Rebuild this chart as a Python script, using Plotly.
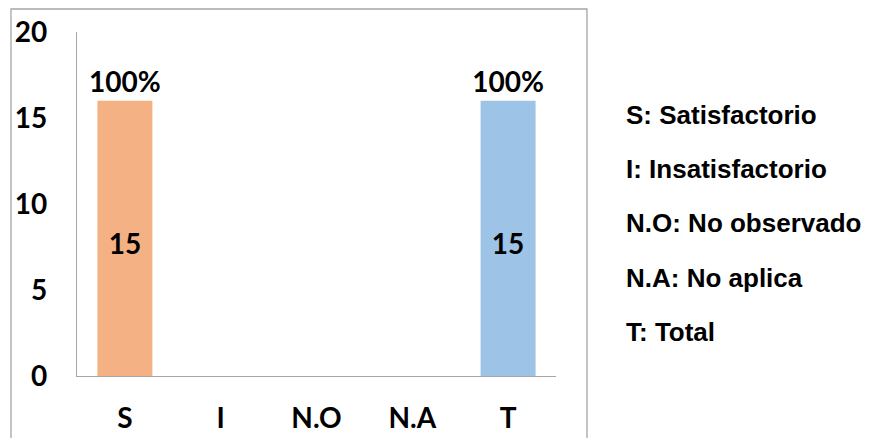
import plotly.graph_objects as go

categories = ["S", "I", "N.O", "N.A", "T"]
bar_values = [16, 0, 0, 0, 16]          # bar heights
count_values = [15, None, None, None, 15]  # numbers printed inside the bars
percent_labels = ["100%", "", "", "", "100%"]
bar_colors = ["#F4B183", "#F4B183", "#F4B183", "#F4B183", "#9DC3E6"]
y_ticks = [0, 5, 10, 15, 20]
legend_lines = ["S: Satisfactorio", "I: Insatisfactorio", "N.O: No observado",
                "N.A: No aplica", "T: Total"]

CAL = "Lato, Carlito, Calibri, sans-serif"
ARIAL = "Liberation Sans, Arial, sans-serif"
CAL_SIZE = 28

W, H = 869, 438
ml, mr, mt, mb = 77, 869 - 556, 32, 438 - 376
pw, ph = W - ml - mr, H - mt - mb

def px_x(px):
    return (px - ml) / pw

def px_y(py):
    return (H - mb - py) / ph

fig = go.Figure()
fig.add_trace(go.Bar(
    x=categories, y=bar_values,
    marker=dict(color=bar_colors, line=dict(width=0)),
    text=percent_labels, textposition="outside", cliponaxis=False,
    constraintext="none",
    textfont=dict(family=CAL, size=CAL_SIZE, color="black", weight="bold"),
    hoverinfo="skip",
))
fig.add_trace(go.Scatter(
    x=[c for c, v in zip(categories, count_values) if v is not None],
    y=[v / 2 for v in count_values if v is not None],
    text=[str(v) for v in count_values if v is not None],
    mode="text", textposition="middle center",
    textfont=dict(family=CAL, size=CAL_SIZE, color="black", weight="bold"),
    hoverinfo="skip",
))

fig.add_shape(type="rect", xref="paper", yref="paper",
              x0=px_x(11), x1=px_x(587), y0=px_y(460), y1=px_y(9),
              line=dict(color="#A6A6A6", width=1.3), fillcolor="rgba(0,0,0,0)",
              layer="below")

for i, line in enumerate(legend_lines):
    fig.add_annotation(xref="paper", yref="paper", x=px_x(624), y=px_y(115 + 54.2 * i),
                       text=line, showarrow=False, xanchor="left", yanchor="middle",
                       font=dict(family=ARIAL, size=26, color="black", weight="bold"))

fig.update_layout(
    width=W, height=H,
    margin=dict(l=ml, r=mr, t=mt, b=mb, autoexpand=False),
    paper_bgcolor="white", plot_bgcolor="white",
    showlegend=False, bargap=0.426,
    xaxis=dict(type="category", showline=True, linecolor="#A6A6A6", linewidth=1.3,
               showgrid=False, ticks="", zeroline=False, automargin=False,
               tickfont=dict(family=CAL, size=CAL_SIZE, color="black", weight="bold"),
               ticklabelstandoff=17, fixedrange=True),
    yaxis=dict(range=[0, 20], tickvals=y_ticks,
               ticktext=[f"<b>{t}</b>" for t in y_ticks],
               showline=True, linecolor="#A6A6A6", automargin=False,
               linewidth=1.3, showgrid=False, ticks="", zeroline=False,
               tickfont=dict(family=CAL, size=CAL_SIZE, color="black", weight="bold"),
               ticklabelstandoff=23, fixedrange=True),
)

fig.write_html(
    "out.html",
    config={"displayModeBar": False},
    post_script="document.documentElement.style.margin='0';"
                "document.body.style.margin='0';"
                "document.documentElement.style.overflow='hidden';"
                "document.body.style.overflow='hidden';",
)
